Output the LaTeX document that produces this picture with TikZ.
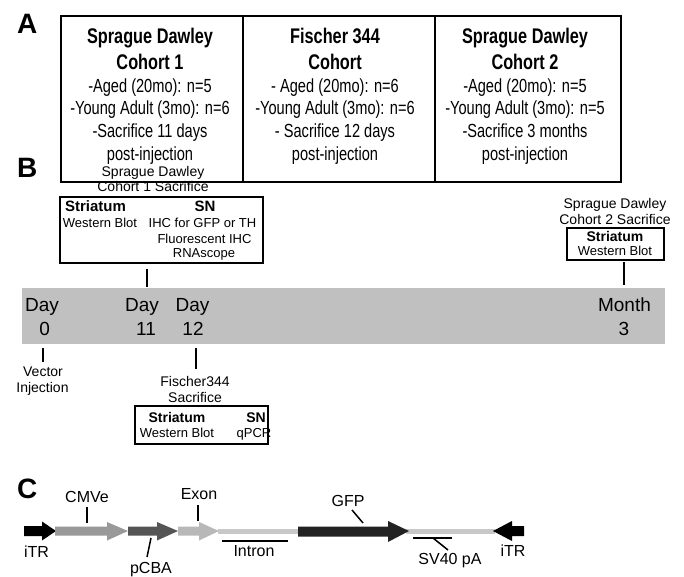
\documentclass[tikz,border=0pt]{standalone}
\usepackage{fontspec}
\setmainfont{Liberation Sans}
\newcommand\fsz[1]{\fontsize{#1}{#1}\selectfont}
\newcommand\tallA[1]{\scalebox{1}[1.3]{#1}}
\definecolor{barg}{HTML}{C0C0C0}
\definecolor{cmvg}{HTML}{999999}
\definecolor{pcbag}{HTML}{555555}
\definecolor{exong}{HTML}{B8B8B8}
\definecolor{intg}{HTML}{C8C8C8}
\definecolor{gfpg}{HTML}{222222}
\tikzset{
  lbl/.style={inner sep=0, anchor=base},
  boxA/.style={draw, line width=2pt, inner sep=0, anchor=north west},
  plet/.style={inner sep=0, anchor=base west, font=\fsz{28}\bfseries},
  conn/.style={line width=1.8pt},
  thin/.style={line width=1.5pt},
}
\begin{document}
\begin{tikzpicture}[x=1pt,y=-1pt]
\useasboundingbox (0,0) rectangle (684,577);
% ---------- Panel A ----------
\node[plet] (la) at (17,34) {A};
\node[boxA, minimum width=182pt, minimum height=166pt] (c1) at (60,15) {};
\node[boxA, minimum width=192pt, minimum height=166pt] (c2) at (242,15) {};
\node[boxA, minimum width=186pt, minimum height=166pt] (c3) at (434,15) {};
\foreach \cx/\n/\la/\lb/\lc/\ld/\le/\lf in {
  150/a1/Sprague Dawley/Cohort 1/-Aged (20mo): n=5/-Young Adult (3mo): n=6/-Sacrifice 11 days/post-injection,
  335/a2/Fischer 344/Cohort/- Aged (20mo): n=6/-Young Adult (3mo): n=6/- Sacrifice 12 days/post-injection,
  525/a3/Sprague Dawley/Cohort 2/-Aged (20mo): n=5/-Young Adult (3mo): n=5/-Sacrifice 3 months/post-injection}{
  \node[lbl, font=\fsz{16.3}\bfseries] (\n l1) at (\cx,43.1) {\tallA{\la}};
  \node[lbl, font=\fsz{16.3}\bfseries] (\n l2) at (\cx,69.3) {\tallA{\lb}};
  \node[lbl, font=\fsz{14.6}] (\n l3) at (\cx,92.5) {\tallA{\lc}};
  \node[lbl, font=\fsz{14.6}] (\n l4) at (\cx,114.3) {\tallA{\ld}};
  \node[lbl, font=\fsz{14.6}] (\n l5) at (\cx,137.5) {\tallA{\le}};
  \node[lbl, font=\fsz{14.6}] (\n l6) at (\cx,160.2) {\tallA{\lf}};
}
% ---------- Panel B ----------
\node[plet] (lb) at (17,178) {B};
\node[fill=barg, inner sep=0, anchor=north west, minimum width=643pt, minimum height=56pt] (bar) at (22,288) {};
% cohort 1 box
\node[lbl, font=\fsz{14}] (s1a) at (153,177) {Sprague Dawley};
\node[lbl, font=\fsz{14}] (s1b) at (153,192) {Cohort 1 Sacrifice};
\node[boxA, minimum width=203pt, minimum height=66pt] (box1) at (59,196) {};
\node[lbl, font=\fsz{15}\bfseries] (b1s) at (95.5,211.4) {Striatum};
\node[lbl, font=\fsz{15}\bfseries] (b1n) at (205,211.4) {SN};
\node[lbl, font=\fsz{13}] (b1w) at (100,227.7) {Western Blot};
\node[lbl, font=\fsz{13}] (b1i) at (202.5,227.7) {IHC for GFP or TH};
\node[lbl, font=\fsz{13}] (b1f) at (204.5,243.3) {Fluorescent IHC};
\node[lbl, font=\fsz{13}] (b1r) at (204,257.8) {RNAscope};
% cohort 2 box
\node[lbl, font=\fsz{14}] (s2a) at (615,208) {Sprague Dawley};
\node[lbl, font=\fsz{14}] (s2b) at (615,224) {Cohort 2 Sacrifice};
\node[boxA, minimum width=97pt, minimum height=32pt] (box2) at (566,227) {};
\node[lbl, font=\fsz{14}\bfseries] (b2s) at (615,241.2) {Striatum};
\node[lbl, font=\fsz{13}] (b2w) at (615,255.6) {Western Blot};
% Fischer box
\node[lbl, font=\fsz{14}] (f1a) at (195,386) {Fischer344};
\node[lbl, font=\fsz{14}] (f1b) at (195,402) {Sacrifice};
\node[boxA, minimum width=133pt, minimum height=38pt] (box3) at (134,405) {};
\node[lbl, font=\fsz{14}\bfseries] (b3s) at (177,422) {Striatum};
\node[lbl, font=\fsz{14}\bfseries] (b3n) at (256,422) {SN};
\node[lbl, font=\fsz{13}] (b3w) at (177,437.7) {Western Blot};
\node[lbl, font=\fsz{13}] (b3q) at (254,437.7) {qPCR};
% Vector injection
\node[lbl, font=\fsz{14}] (vi1) at (43,376) {Vector};
\node[lbl, font=\fsz{14}] (vi2) at (42.5,392) {Injection};
% day labels
\node[lbl, anchor=base west, font=\fsz{19}] (d0a) at (25,311) {Day};
\node[lbl, font=\fsz{19}] (d0b) at (44.7,335) {0};
\node[lbl, font=\fsz{19}] (d11a) at (142,311) {Day};
\node[lbl, font=\fsz{19}] (d11b) at (146,335) {11};
\node[lbl, font=\fsz{19}] (d12a) at (192.5,311) {Day};
\node[lbl, font=\fsz{19}] (d12b) at (193,335) {12};
\node[lbl, font=\fsz{19}] (m3a) at (624.5,311) {Month};
\node[lbl, font=\fsz{19}] (m3b) at (624,335) {3};
% tick connectors
\coordinate (t0) at (43,0);
\coordinate (t11) at (147,0);
\coordinate (t12) at (196,0);
\coordinate (tm3) at (624,0);
\draw[conn] ([yshift=-5pt]t11 |- box1.south) -- ([yshift=1pt]t11 |- bar.north);
\draw[conn] ([yshift=-1pt]tm3 |- box2.south) -- ([yshift=3pt]tm3 |- bar.north);
\draw[conn] ([yshift=-4pt]t0 |- bar.south) -- ([yshift=-18pt]t0 |- bar.south);
\draw[conn] ([yshift=-4pt]t12 |- bar.south) -- ([yshift=-25pt]t12 |- bar.south);
% ---------- Panel C ----------
\node[plet] (lc) at (17,498) {C};
% backbone lines
\fill[intg] (218,529) rectangle (298,533.5);
\fill[intg] (406,529) rectangle (495,533.5);
% arrows
\fill[black] (24,526) -- (42,526) -- (42,521.5) -- (56,531) -- (42,540.5) -- (42,536) -- (24,536) -- cycle;
\fill[cmvg] (55,526.5) -- (107,526.5) -- (107,522) -- (128,531) -- (107,540.5) -- (107,535.5) -- (55,535.5) -- cycle;
\fill[pcbag] (128,526.5) -- (157,526.5) -- (157,522) -- (178,531) -- (157,540.5) -- (157,535.5) -- (128,535.5) -- cycle;
\fill[exong] (178,526.5) -- (199,526.5) -- (199,522) -- (219,531) -- (199,540.5) -- (199,535.5) -- (178,535.5) -- cycle;
\fill[gfpg] (298,526.5) -- (388,526.5) -- (388,521) -- (409,531) -- (388,542) -- (388,536.5) -- (298,536.5) -- cycle;
\fill[black] (524,526) -- (512,526) -- (512,521) -- (493,531) -- (512,541) -- (512,536) -- (524,536) -- cycle;
% labels
\node[lbl, font=\fsz{16}] (cmv) at (87,502.8) {CMVe};
\node[lbl, font=\fsz{16}] (exon) at (199,499.8) {Exon};
\node[lbl, font=\fsz{16}] (pcba) at (151,573.8) {pCBA};
\node[lbl, font=\fsz{16}] (itr1) at (36.5,557.8) {iTR};
\node[lbl, font=\fsz{16}] (intr) at (254,556.8) {Intron};
\node[lbl, font=\fsz{16}] (gfp) at (348,506.8) {GFP};
\node[lbl, font=\fsz{16}] (sv) at (450,564.8) {SV40 pA};
\node[lbl, font=\fsz{16}] (itr2) at (513,556.8) {iTR};
% leader lines
\coordinate (cmvA) at (87,507); \coordinate (cmvB) at (87,523);
\coordinate (exA) at (198,505); \coordinate (exB) at (198,521);
\coordinate (pcA) at (151,538); \coordinate (pcB) at (147,557);
\coordinate (gfA) at (352,510); \coordinate (gfB) at (363,523);
\coordinate (inA) at (222,541); \coordinate (inB) at (288,541);
\coordinate (svA) at (413,538); \coordinate (svB) at (452,538);
\coordinate (svC) at (433,538); \coordinate (svD) at (448,550);
\draw[thin] (cmvA) -- (cmvB);
\draw[thin] (exA) -- (exB);
\draw[thin] (pcA) -- (pcB);
\draw[thin] (gfA) -- (gfB);
\draw[thin] (inA) -- (inB);
\draw[thin] (svA) -- (svB);
\draw[thin] (svC) -- (svD);
\end{tikzpicture}
\end{document}
